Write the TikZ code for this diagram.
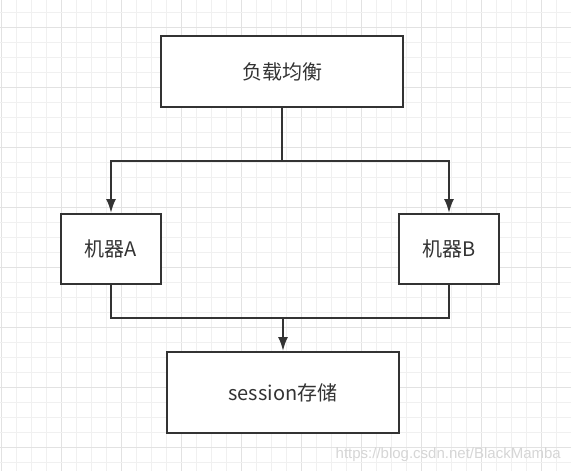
\documentclass[tikz,border=0pt]{standalone}
\usepackage{fontspec}
\newfontfamily\cjk{Noto Sans CJK SC}
\newfontfamily\wmfont{Liberation Sans}
\usetikzlibrary{arrows.meta}

\definecolor{linegray}{HTML}{333333}
\definecolor{minorgrid}{HTML}{F0F0F0}
\definecolor{majorgrid}{HTML}{E2E2E2}
\definecolor{markgray}{HTML}{D6D6D6}

\tikzset{
  box/.style={draw=linegray, line width=2pt, fill=white, inner sep=0pt,
    font=\cjk\fontsize{20}{24}\selectfont, text=linegray},
  wire/.style={draw=linegray, line width=2pt},
  feed/.style={wire, -{Latex[length=14pt, width=10pt]}}
}

\begin{document}
\begin{tikzpicture}[x=1pt, y=-1pt]
      \useasboundingbox (0,0) rectangle (571,471);
      \fill[white] (0,0) rectangle (571,471);

      % background grid
      \foreach \k in {0,...,38} {
        \pgfmathtruncatemacro{\major}{mod(\k,4)==0}
        \ifnum\major=1 \def\gc{majorgrid}\else\def\gc{minorgrid}\fi
        \draw[\gc, line width=1pt] (1+15*\k, 0) -- (1+15*\k, 471);
      }
      \foreach \k in {0,...,30} {
        \pgfmathtruncatemacro{\major}{mod(\k+3,4)==0}
        \ifnum\major=1 \def\gc{majorgrid}\else\def\gc{minorgrid}\fi
        \draw[\gc, line width=1pt] (0, 12+15*\k) -- (571, 12+15*\k);
      }

      \node[box, minimum width=242pt, minimum height=71pt] (lb) at (282,71.5) {负载均衡};
      \node[box, minimum width=100pt, minimum height=70pt] (ma) at (111,249) {机器A};
      \node[box, minimum width=100pt, minimum height=70pt] (mb) at (449,249) {机器B};
      \node[box, minimum width=232pt, minimum height=81pt] (ss) at (283,392.5) {session存储};

      \coordinate (split) at (282,161);
      \coordinate (join)  at (283,318);

      \draw[feed] (lb.south) -- (split) -| (ma.north);
      \draw[feed] (split) -| (mb.north);
      \draw[wire] (ma.south) |- (join) -| (mb.south);
      \draw[feed] (join) -- (ss.north);

      \node[anchor=base east, text=markgray, font=\wmfont\fontsize{15}{18}\selectfont, inner sep=0pt]
        (mark) at (561,458) {https://blog.csdn.net/BlackMamba};
    \end{tikzpicture}
\end{document}
